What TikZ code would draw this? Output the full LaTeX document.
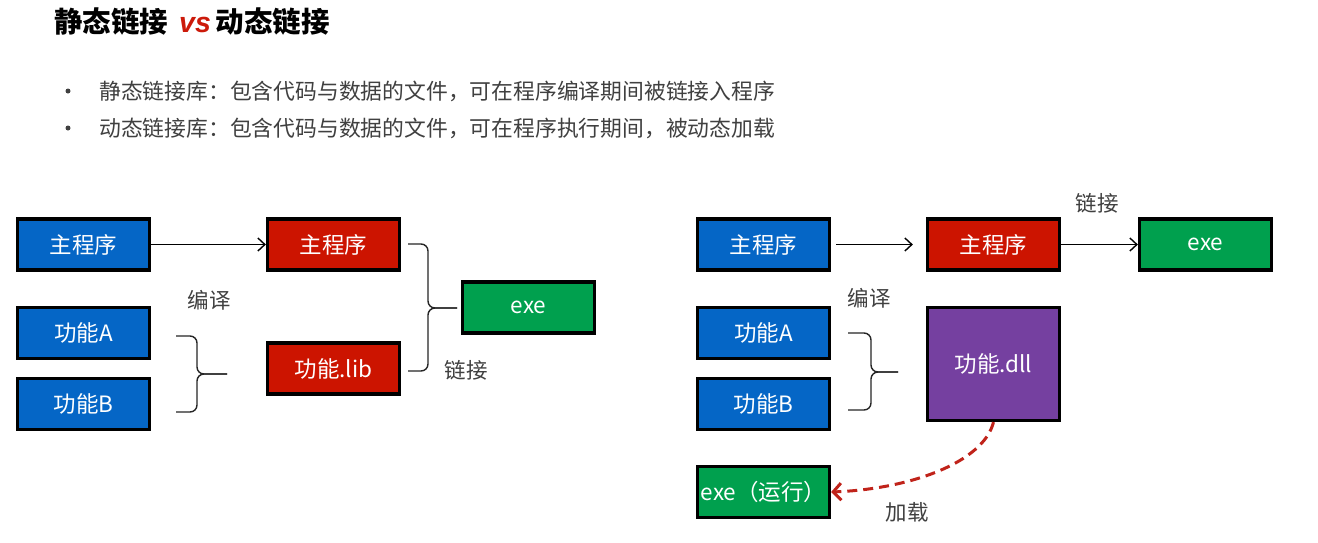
\documentclass[tikz,border=0pt]{standalone}
\usepackage{fontspec}
\setmainfont{Noto Sans CJK SC}
\newfontfamily\vsfont{Liberation Sans}
\usetikzlibrary{arrows.meta}
\definecolor{boxblue}{HTML}{0566C6}
\definecolor{boxred}{HTML}{CC1400}
\definecolor{boxgreen}{HTML}{00A04E}
\definecolor{boxpurple}{HTML}{7540A0}
\definecolor{loadred}{HTML}{C0231A}
\definecolor{vsred}{HTML}{CC1A0A}
\definecolor{inkgray}{HTML}{404040}

\begin{document}
\begin{tikzpicture}[x=1pt,y=-1pt,
  box/.style={draw=black, line width=3.2pt, minimum width=132pt, minimum height=51pt,
    inner sep=0pt, text=white, font=\fontsize{22.5}{22.5}\selectfont},
  bluebox/.style={box, fill=boxblue},
  redbox/.style={box, fill=boxred},
  greenbox/.style={box, fill=boxgreen},
  purplebox/.style={box, fill=boxpurple, minimum height=113pt},
  lab/.style={text=inkgray, inner sep=0pt, font=\fontsize{21.5}{21.5}\selectfont},
  bullettext/.style={text=inkgray, inner sep=0pt, anchor=west, font=\fontsize{21.8}{22}\selectfont},
  bulletdot/.style={circle, fill=inkgray, minimum size=5pt, inner sep=0pt},
  arr/.style={draw=black, line width=1.4pt, -{Straight Barb[length=7pt,width=13pt,line width=1.4pt]}},
  bracepath/.style={draw=black!85, line width=1.4pt, rounded corners=7pt},
  loadarrow/.style={draw=loadred, line width=3pt, dash pattern=on 10pt off 6pt,
    -{Straight Barb[length=8pt,width=17pt,line width=3pt]}}]

\useasboundingbox (0,0) rectangle (1318,542);
\fill[white] (0,0) rectangle (1318,542);

% heading and bullet list
\node[anchor=west, inner sep=0pt, font=\fontsize{28.5}{29}\selectfont\bfseries] (title) at (54,22)
  {静态链接\hspace{11pt}{\vsfont\bfseries\itshape\color{vsred}vs}\hspace{5pt}动态链接};
\node[bulletdot] (dot1) at (68,91) {};
\node[bulletdot] (dot2) at (68,128) {};
\node[bullettext] (line1) at (99,91) {静态链接库：包含代码与数据的文件，可在程序编译期间被链接入程序};
\node[bullettext] (line2) at (99,128) {动态链接库：包含代码与数据的文件，可在程序执行期间，被动态加载};

% ---- static linking ----
\node[bluebox]  (bm1)  at (83.5,244.5) {主程序};
\node[bluebox]  (fa1)  at (83.5,333)   {功能A};
\node[bluebox]  (fb1)  at (83.5,404)   {功能B};
\node[redbox]   (rm1)  at (333.5,244.5) {主程序};
\node[redbox]   (lib)  at (333.5,368.5) {功能.lib};
\node[greenbox] (exe1) at (528.5,307.5) {exe};
\node[lab] (compile1) at (209,300) {编译};
\node[lab] (link1)    at (466,370) {链接};

\draw[arr] (bm1.east) -- (rm1.west);

\coordinate (b1t) at (176,336);
\coordinate (b1b) at (176,412);
\coordinate (b1m) at (197,374);
\coordinate (b1tip) at (227,374);
\draw[bracepath] (b1t) -| (b1m) -- (b1tip);
\draw[bracepath] (b1b) -| (b1m) -- (b1tip);

\coordinate (b2t) at (408,244);
\coordinate (b2b) at (408,371);
\coordinate (b2m) at (428,308);
\coordinate (b2tip) at (457,308);
\draw[bracepath] (b2t) -| (b2m) -- (b2tip);
\draw[bracepath] (b2b) -| (b2m) -- (b2tip);

% ---- dynamic linking ----
\node[bluebox]   (bm2)  at (763.5,244.5) {主程序};
\node[bluebox]   (fa2)  at (763.5,333)   {功能A};
\node[bluebox]   (fb2)  at (763.5,404)   {功能B};
\node[redbox]    (rm2)  at (993.5,244.5) {主程序};
\node[greenbox]  (exe2) at (1205.5,244.5) {exe};
\node[purplebox] (dll)  at (993.5,364)   {功能.dll};
\node[greenbox]  (exe3) at (763.5,492)   {exe（运行）};
\node[lab] (link2)    at (1097,203) {链接};
\node[lab] (compile2) at (869,298)  {编译};
\node[lab] (load)     at (907,512)  {加载};

\draw[arr, shorten <=5pt, shorten >=13pt] (bm2.east) -- (rm2.west);
\draw[arr] (rm2.east) -- (exe2.west);

\coordinate (b3t) at (848,333);
\coordinate (b3b) at (848,410);
\coordinate (b3m) at (871,372);
\coordinate (b3tip) at (898,372);
\draw[bracepath] (b3t) -| (b3m) -- (b3tip);
\draw[bracepath] (b3b) -| (b3m) -- (b3tip);

\draw[loadarrow] (dll.south) .. controls +(-10,40) and +(80,-3) .. (exe3.east);

\end{tikzpicture}
\end{document}
